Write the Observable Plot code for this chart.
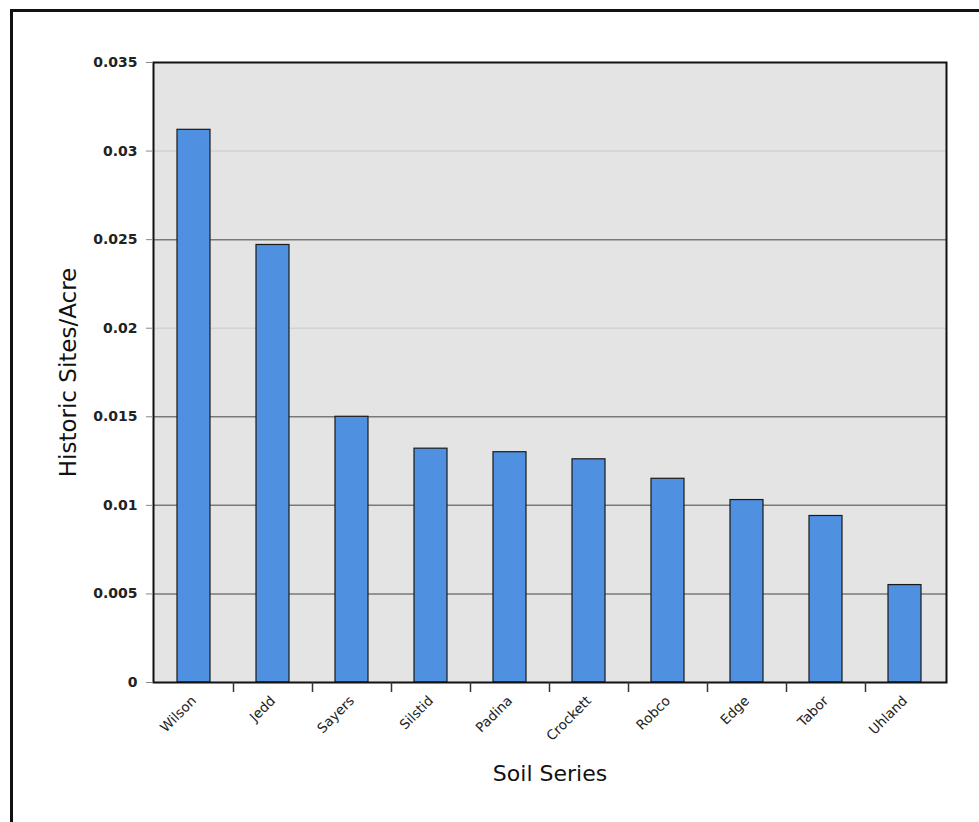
<!DOCTYPE html>
<html>
<head>
<meta charset="utf-8">
<script src="https://cdn.jsdelivr.net/npm/d3@7"></script>
<script src="https://cdn.jsdelivr.net/npm/@observablehq/plot@0.6"></script>
<style>
  html, body { margin: 0; padding: 0; background: #fff; }
  #wrap { position: relative; width: 979px; height: 822px; overflow: hidden; }
  #frame { position: absolute; left: 10px; top: 9px; width: 1000px; height: 900px; border: 3px solid #111; box-sizing: border-box; }
  #chart { position: absolute; left: 0; top: 0; }
</style>
</head>
<body>
<div id="wrap"><div id="frame"></div><div id="chart"></div></div>
<script>
const soilSeries = ["Wilson", "Jedd", "Sayers", "Silstid", "Padina", "Crockett", "Robco", "Edge", "Tabor", "Uhland"];
const sitesPerAcre = [0.0312, 0.0247, 0.0150, 0.0132, 0.0130, 0.0126, 0.0115, 0.0103, 0.0094, 0.0055];
const yTicks = [0, 0.005, 0.01, 0.015, 0.02, 0.025, 0.03, 0.035];
const darkGrid = [0.005, 0.01, 0.015, 0.025];
const lightGrid = [0.02, 0.03];

const data = soilSeries.map((s, i) => ({series: s, value: sitesPerAcre[i]}));

const W = 979, H = 822;
const mL = 153, mR = 33, mT = 62, mB = 140;
const padIn = 0.58, padOut = 0.3;

const tickRender = (index, scales, values, dims, context, next) => {
  const g = next(index, scales, values, dims, context);
  const half = scales.x.step ? scales.x.step() / 2 : 0;
  const y0 = dims.height - dims.marginBottom;
  d3.select(g).selectAll("line")
    .attr("y1", y0).attr("y2", y0 + 10)
    .attr("transform", `translate(${half},0)`);
  return g;
};

const chart = Plot.plot({
  width: W,
  height: H,
  marginLeft: mL,
  marginRight: mR,
  marginTop: mT,
  marginBottom: mB,
  style: {fontFamily: "DejaVu Sans, sans-serif", background: "transparent", overflow: "visible"},
  x: {type: "band", domain: soilSeries, paddingInner: padIn, paddingOuter: padOut, label: null},
  y: {type: "linear", domain: [0, 0.035], label: null},
  marks: [
    Plot.frame({fill: "#e4e4e4", stroke: null}),
    Plot.ruleY(lightGrid, {stroke: "#d2d2d2", strokeWidth: 1.5}),
    Plot.ruleY(darkGrid, {stroke: "#7a7a7a", strokeWidth: 1.5}),
    Plot.barY(data, {x: "series", y: "value", fill: "#4f90e0", stroke: "#1a1a1a", strokeWidth: 1.2}),
    Plot.frame({stroke: "#111", strokeWidth: 2}),
    Plot.axisY({ticks: yTicks, tickFormat: d3.format("~g"), tickSize: 7, tickPadding: 9, stroke: "#888",
      fontSize: 14, fontWeight: "bold", fill: "#222", label: null}),
    Plot.axisX({tickSize: 0, tickRotate: -45, tickPadding: 16, fontSize: 13.5, fill: "#222", label: null}),
    Plot.tickX(soilSeries.slice(0, -1), {x: d => d, stroke: "#333", strokeWidth: 1.5, render: tickRender}),
    Plot.text(["Historic Sites/Acre"], {frameAnchor: "left", textAnchor: "middle", dx: -85, rotate: -90, fontSize: 23, fill: "#111"}),
    Plot.text(["Soil Series"], {frameAnchor: "bottom", dy: 98, fontSize: 22, fill: "#111"})
  ]
});
document.getElementById("chart").appendChild(chart);
</script>
</body>
</html>
